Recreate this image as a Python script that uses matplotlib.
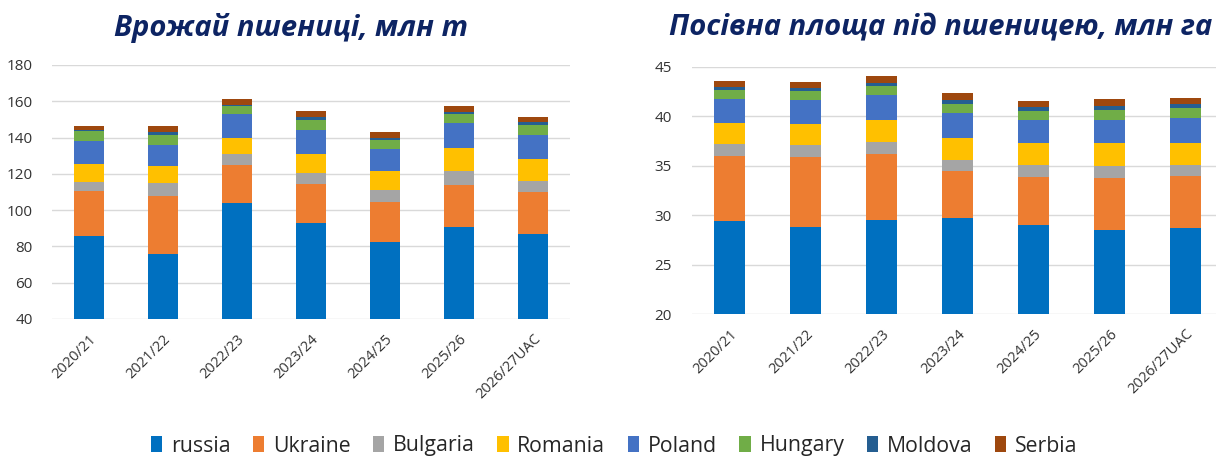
import matplotlib
matplotlib.use("Agg")
import matplotlib.pyplot as plt
import numpy as np

plt.rcParams['font.family'] = ['Open Sans', 'DejaVu Sans']

seasons = ["2020/21", "2021/22", "2022/23", "2023/24", "2024/25", "2025/26", "2026/27UAC"]
countries = ["russia", "Ukraine", "Bulgaria", "Romania", "Poland", "Hungary", "Moldova", "Serbia"]
colors = ["#0070C0", "#ED7D31", "#A5A5A5", "#FFC000", "#4472C4", "#70AD47", "#255E91", "#9E480E"]

# Wheat harvest, mln t
harvest_russia   = [85.7, 76.0, 104.1, 92.7, 82.4, 90.9, 87.0]
harvest_ukraine  = [24.8, 32.0, 20.8, 21.5, 21.9, 23.1, 23.2]
harvest_bulgaria = [5.0, 7.0, 6.2, 6.3, 6.8, 7.6, 5.9]
harvest_romania  = [10.1, 9.3, 8.7, 10.6, 10.3, 12.6, 12.1]
harvest_poland   = [12.7, 11.8, 13.2, 13.1, 12.3, 13.8, 13.2]
harvest_hungary  = [5.1, 5.5, 4.6, 5.7, 5.1, 5.2, 5.5]
harvest_moldova  = [0.6, 1.5, 0.6, 1.3, 1.1, 1.1, 1.7]
harvest_serbia   = [2.5, 3.3, 3.3, 3.4, 3.0, 3.1, 2.9]

# Sown area under wheat, mln ha
area_russia   = [29.42, 28.75, 29.49, 29.72, 28.95, 28.51, 28.71]
area_ukraine  = [6.56, 7.13, 6.69, 4.71, 4.91, 5.22, 5.22]
area_bulgaria = [1.18, 1.21, 1.25, 1.15, 1.21, 1.21, 1.11]
area_romania  = [2.15, 2.16, 2.15, 2.25, 2.19, 2.32, 2.29]
area_poland   = [2.46, 2.42, 2.56, 2.49, 2.39, 2.39, 2.52]
area_hungary  = [0.91, 0.87, 0.91, 0.95, 0.87, 1.01, 0.98]
area_moldova  = [0.27, 0.31, 0.33, 0.37, 0.37, 0.37, 0.40]
area_serbia   = [0.57, 0.57, 0.64, 0.70, 0.64, 0.67, 0.64]

harvest = [harvest_russia, harvest_ukraine, harvest_bulgaria, harvest_romania,
           harvest_poland, harvest_hungary, harvest_moldova, harvest_serbia]
area = [area_russia, area_ukraine, area_bulgaria, area_romania,
        area_poland, area_hungary, area_moldova, area_serbia]

W, H = 1216, 457
fig = plt.figure(figsize=(W / 100, H / 100), dpi=100)

title_color = "#0D2463"
tick_color = "#333333"
grid_color = "#D9D9D9"


def draw(ax, data, ylim, yticks, base):
    x = np.arange(len(seasons))
    bottom = np.zeros(len(seasons))
    for name, vals, c in zip(countries, data, colors):
        vals = np.array(vals, dtype=float)
        if name == "russia":
            ax.bar(x, vals - base, bottom=base, width=0.41, color=c, label=name, zorder=3)
            bottom = vals.copy()
        else:
            ax.bar(x, vals, bottom=bottom, width=0.41, color=c, label=name, zorder=3)
            bottom = bottom + vals
    ax.set_ylim(*ylim)
    ax.set_xlim(-0.5, len(seasons) - 0.5)
    ax.set_yticks(yticks)
    ax.grid(axis='y', color=grid_color, linewidth=1.0, zorder=0)
    for s in ax.spines.values():
        s.set_visible(False)
    ax.tick_params(axis='both', length=0, colors=tick_color)
    ax.tick_params(axis='y', pad=14, labelsize=11)
    ax.set_xticks(x)
    ax.set_xticklabels(seasons, rotation=45, ha='right', va='top',
                       rotation_mode='anchor', fontsize=10.5)
    ax.tick_params(axis='x', pad=9)


ax1 = fig.add_axes([52 / W, (H - 319) / H, 518 / W, 254 / H])
draw(ax1, harvest, (40, 180), np.arange(40, 181, 20), 40)

ax2 = fig.add_axes([691.5 / W, (H - 314) / H, 532 / W, 247.3 / H])
draw(ax2, area, (20, 45), np.arange(20, 46, 5), 20)

fig.text(291 / W, 1 - 28 / H, "Врожай пшениці, млн т", ha='center', va='center',
         fontsize=21, fontweight='bold', fontstyle='italic', color=title_color)
fig.text(941 / W, 1 - 28 / H, "Посівна площа під пшеницею, млн га", ha='center', va='center',
         fontsize=21, fontweight='bold', fontstyle='italic', color=title_color)

handles, labels = ax1.get_legend_handles_labels()
fig.legend(handles, labels, loc='center', bbox_to_anchor=(614 / W, 1 - 446 / H),
           ncol=8, frameon=False, fontsize=15.3, handlelength=0.55, handleheight=0.75,
           handletextpad=0.4, columnspacing=1.05, labelcolor="#262626",
           borderaxespad=0, borderpad=0)

fig.savefig("out.png", dpi=100)
